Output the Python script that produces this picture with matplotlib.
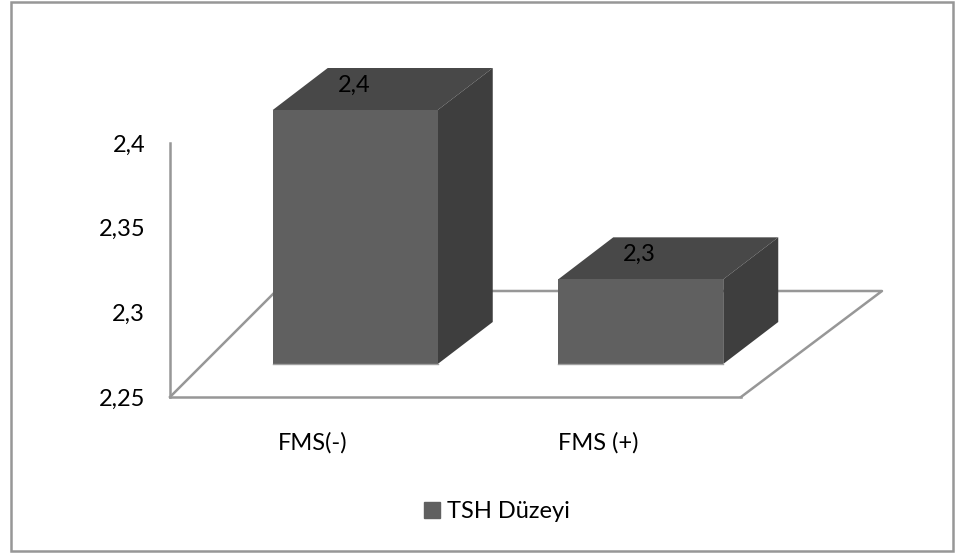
import matplotlib
matplotlib.use("Agg")
import matplotlib.pyplot as plt
from matplotlib.patches import Patch, Rectangle

plt.rcParams['font.family'] = ['Lato', 'DejaVu Sans']

categories = ["FMS(-)", "FMS (+)"]
values = [2.4, 2.3]
bar_labels = ["2,4", "2,3"]
y_ticks = [2.25, 2.3, 2.35, 2.4]
y_tick_labels = ["2,25", "2,3", "2,35", "2,4"]
series_name = "TSH Düzeyi"

W, H = 964, 554
LINE = '#979797'
FRONT, TOP, SIDE = '#606060', '#484848', '#3e3e3e'
FONT_SIZE = 17

fig = plt.figure(figsize=(W / 100, H / 100), dpi=100)
ax = fig.add_axes([170 / W, 1 - 397 / H, 571 / W, 254 / H])
ax.set_xlim(-0.5, 1.5)
ax.set_ylim(2.25, 2.4)

# pixel sizes to data units
px_x = 2.0 / 571
px_y = 0.15 / 254

# outer frame
fig.add_artist(Rectangle((10.5 / W, 1 - 551 / H), 942 / W, 549.5 / H, transform=fig.transFigure,
                         fill=False, edgecolor=LINE, linewidth=1.8))

# floor of the 3d box
floor_x = [-0.5, -0.5 + 106 * px_x, 1.5 + 141 * px_x, 1.5]
floor_y = [2.25, 2.25 + 106 * px_y, 2.25 + 106 * px_y, 2.25]
ax.plot(floor_x, floor_y, color=LINE, lw=1.8, clip_on=False, zorder=1)

for i, (val, lab) in enumerate(zip(values, bar_labels)):
    x0 = i - 82.5 * px_x + 42.5 * px_x
    x1 = x0 + 165 * px_x
    base = 2.25 + 33 * px_y
    top = val + 33 * px_y
    dx, dy = 55 * px_x, 42 * px_y
    ax.fill([x0, x0 + dx, x1 + dx, x1], [top, top + dy, top + dy, top],
            color=TOP, lw=0, clip_on=False, zorder=3)
    ax.fill([x1, x1 + dx, x1 + dx, x1], [base, base + dy, top + dy, top],
            color=SIDE, lw=0, clip_on=False, zorder=3)
    ax.fill([x0, x1, x1, x0], [base, base, top, top],
            color=FRONT, lw=0, clip_on=False, zorder=3)
    ax.plot([x0, x1], [base, base], color='#a0a0a0', lw=1, clip_on=False, zorder=4)
    ax.text((x0 + x1) / 2 - 1.5 * px_x, top + 25 * px_y, lab, ha='center', va='center',
            fontsize=FONT_SIZE, color='black', zorder=5)

for side in ['top', 'right']:
    ax.spines[side].set_visible(False)
for side in ['left', 'bottom']:
    ax.spines[side].set_color(LINE)
    ax.spines[side].set_linewidth(1.8)

ax.set_xticks(range(len(categories)))
ax.set_xticklabels(categories, fontsize=FONT_SIZE)
ax.set_yticks(y_ticks)
ax.set_yticklabels(y_tick_labels, fontsize=FONT_SIZE)
ax.tick_params(length=0)
ax.tick_params(axis='x', pad=25)
ax.tick_params(axis='y', pad=18)

fig.legend(handles=[Patch(color=FRONT, label=series_name)], loc='center',
           bbox_to_anchor=(497 / W, 1 - 512 / H), frameon=False, fontsize=FONT_SIZE,
           handlelength=0.65, handleheight=0.65, handletextpad=0.3)

fig.savefig('out.png', dpi=100)
